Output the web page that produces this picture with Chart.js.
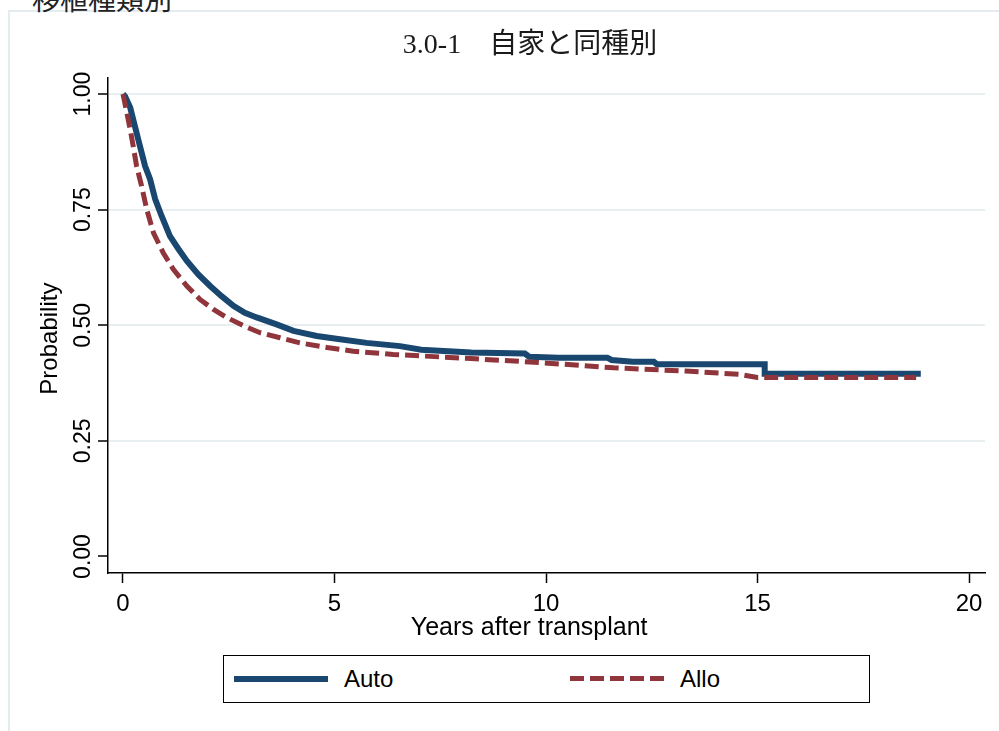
<!DOCTYPE html>
<html>
<head>
<meta charset="utf-8">
<script src="https://cdn.jsdelivr.net/npm/chart.js@4.4.1/dist/chart.umd.min.js"></script>
<style>
	html, body { margin: 0; padding: 0; background: #fff; }
	#wrap { position: relative; width: 999px; height: 731px; overflow: hidden; }
	#frame { position: absolute; left: 8px; top: 10px; width: 1000px; height: 730px;
		border-left: 2px solid #e4ecef; border-top: 2px solid #e4ecef; }
	#cut-title { position: absolute; left: 32px; top: -13px; font: 28px "Liberation Serif", "Noto Sans CJK JP", serif;
		color: #222; line-height: 28px; white-space: nowrap; }
	#chart { position: absolute; left: 0; top: 0; }
	#legend { position: absolute; left: 223px; top: 655px; width: 647px; height: 48px; box-sizing: border-box;
		border: 1.5px solid #000; background: #fff; font: 24px "Liberation Sans", Arial, sans-serif; color: #000; }
	.item { position: absolute; top: 0; height: 45px; display: flex; align-items: center; }
	.swatch { width: 94px; height: 6px; margin-right: 16px; }
</style>
</head>
<body>
<div id="wrap">
	<div id="frame"></div>
	<div id="cut-title">移植種類別</div>
	<canvas id="chart" width="999" height="731"></canvas>
	<div id="legend"></div>
</div>
<script>
// values
const seriesNames = ["Auto", "Allo"];
const seriesColors = ["#1a476f", "#90353b"];

const autoYears = [0, 0.05, 0.17, 0.28, 0.40, 0.52, 0.64, 0.76, 0.91, 1.11,
	1.31, 1.51, 1.78, 2.06, 2.33, 2.61, 2.88, 3.16, 3.63, 4.03,
	4.58, 5.13, 5.76, 6.55, 7.05, 8.23, 9.5, 9.6, 10.3, 11.45,
	11.55, 12.05, 12.55, 12.62, 15.17, 15.17, 18.86];
const autoProb = [1.0, 0.995, 0.971, 0.931, 0.888, 0.845, 0.816, 0.773, 0.737, 0.693,
	0.665, 0.639, 0.610, 0.585, 0.563, 0.542, 0.527, 0.517, 0.502, 0.488,
	0.477, 0.470, 0.462, 0.455, 0.447, 0.441, 0.439, 0.432, 0.430, 0.430,
	0.425, 0.421, 0.421, 0.416, 0.416, 0.395, 0.395];

const alloYears = [0, 0.09, 0.17, 0.24, 0.32, 0.44, 0.56, 0.72, 0.95, 1.19,
	1.51, 1.82, 2.13, 2.45, 2.85, 3.24, 3.71, 4.18, 4.82, 5.44,
	6.39, 8.23, 9.93, 11.6, 13.3, 14.56, 15.0, 18.75];
const alloProb = [1.0, 0.960, 0.924, 0.888, 0.845, 0.801, 0.751, 0.700, 0.657, 0.621,
	0.585, 0.556, 0.535, 0.517, 0.499, 0.484, 0.473, 0.462, 0.452, 0.444,
	0.437, 0.428, 0.419, 0.408, 0.401, 0.394, 0.387, 0.387];

const xTicks = [0, 5, 10, 15, 20];
const yTicks = [0, 0.25, 0.5, 0.75, 1];

const sans = "'Liberation Sans', Arial, sans-serif";
const toPoints = (xs, ys) => xs.map((x, i) => ({ x: x, y: ys[i] }));

new Chart(document.getElementById("chart"), {
	type: "line",
	data: {
		datasets: [
			{
				label: seriesNames[0],
				data: toPoints(autoYears, autoProb),
				borderColor: seriesColors[0],
				borderWidth: 6,
				pointRadius: 0,
				order: 1
			},
			{
				label: seriesNames[1],
				data: toPoints(alloYears, alloProb),
				borderColor: seriesColors[1],
				borderWidth: 5,
				borderDash: [14, 6],
				pointRadius: 0,
				order: 0
			}
		]
	},
	options: {
		responsive: false,
		animation: false,
		devicePixelRatio: 1,
		layout: { padding: { left: 40, right: 14, top: 0, bottom: 0 } },
		plugins: {
			legend: { display: false },
			tooltip: { enabled: false },
			title: {
				display: true,
				text: "     3.0-1\u3000自家と同種別",
				color: "#1a1a1a",
				font: { family: "'Liberation Serif', 'Noto Sans CJK JP', serif", size: 28, weight: "normal" },
				padding: { top: 29, bottom: 15 }
			}
		},
		scales: {
			x: {
				type: "linear",
				min: -0.3546,
				max: 20.378,
				afterBuildTicks: (s) => { s.ticks = xTicks.map(v => ({ value: v })); },
				afterFit: (s) => { s.height = 158; },
				grid: { drawOnChartArea: false, drawTicks: true, tickLength: 10, tickColor: "#000", tickWidth: 1.5 },
				border: { display: true, color: "#000", width: 1.5 },
				ticks: { color: "#000", font: { family: sans, size: 24 }, padding: 7, maxRotation: 0 },
				title: {
					display: true,
					text: "Years after transplant     ",
					color: "#000",
					font: { family: sans, size: 25 },
					padding: { top: 0, bottom: 88 }
				}
			},
			y: {
				type: "linear",
				min: -0.0357,
				max: 1.0357,
				afterBuildTicks: (s) => { s.ticks = yTicks.map(v => ({ value: v })); },
				afterFit: (s) => { s.width = 68; },
				grid: {
					color: (ctx) => (ctx.tick && ctx.tick.value === 0 ? "rgba(0,0,0,0)" : "#e8eff1"),
					lineWidth: 2,
					drawTicks: true,
					tickLength: 10,
					tickColor: "#000",
					tickWidth: 1.5
				},
				border: { display: true, color: "#000", width: 1.5 },
				ticks: {
					color: "#000",
					font: { family: sans, size: 23 },
					minRotation: 90,
					maxRotation: 90,
					crossAlign: "center",
					padding: -8,
					callback: (v) => Number(v).toFixed(2)
				},
				title: {
					display: true,
					text: "Probability    ",
					color: "#000",
					font: { family: sans, size: 24 },
					padding: { top: -4, bottom: 0 }
				}
			}
		}
	}
});

// legend box under the plot, built from the series names
const legend = document.getElementById("legend");
const itemLeft = [10, 346];
seriesNames.forEach((name, i) => {
	const item = document.createElement("div");
	item.className = "item";
	item.style.left = itemLeft[i] + "px";
	const sw = document.createElement("span");
	sw.className = "swatch";
	if (i === 0) {
		sw.style.background = seriesColors[i];
	} else {
		sw.style.background = "repeating-linear-gradient(90deg, " + seriesColors[i] + " 0 14px, transparent 14px 20px)";
		sw.style.height = "5px";
	}
	const txt = document.createElement("span");
	txt.textContent = name;
	item.appendChild(sw);
	item.appendChild(txt);
	legend.appendChild(item);
});
</script>
</body>
</html>
